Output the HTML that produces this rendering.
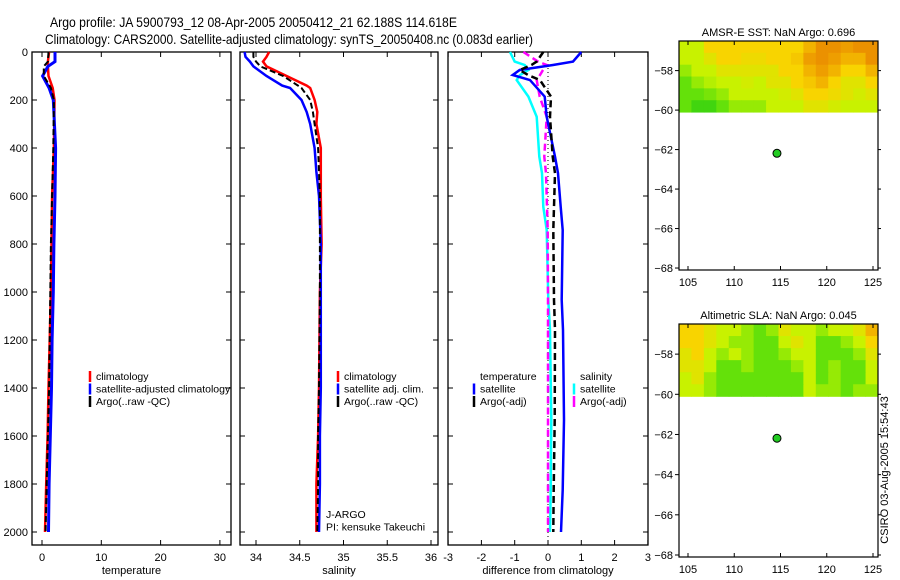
<!DOCTYPE html>
<html><head><meta charset="utf-8"><style>
html,body{margin:0;padding:0;background:#fff;}
svg{display:block;font-family:"Liberation Sans",sans-serif;}
</style></head><body>
<svg id="fig" width="900" height="580" viewBox="0 0 900 580" xmlns="http://www.w3.org/2000/svg">
<text x="50" y="27" font-size="14" textLength="407" lengthAdjust="spacingAndGlyphs">Argo profile: JA 5900793_12 08-Apr-2005 20050412_21 62.188S 114.618E</text>
<text x="45" y="44" font-size="14" textLength="488" lengthAdjust="spacingAndGlyphs">Climatology: CARS2000. Satellite-adjusted climatology: synTS_20050408.nc (0.083d earlier)</text>
<text transform="translate(888,470) rotate(-90)" font-size="11" text-anchor="middle">CSIRO 03-Aug-2005 15:54:43</text>
<g id="plots"></g>
</svg>
<script>
// ---------- data ----------
const depthT = [0,40,60,100,150,200,400,600,800,1000,1200,1400,1600,1800,2000];
const tempClim = [1.2,1.0,1.0,1.1,1.8,2.1,2.0,1.7,1.6,1.5,1.3,1.1,0.95,0.7,0.5];
const tempSat  = [2.2,2.2,1.0,0.1,1.2,1.9,2.3,2.2,2.0,1.9,1.7,1.6,1.4,1.2,1.1];
const tempArgo = [1.1,1.0,0.3,0.3,1.5,2.0,1.9,1.7,1.5,1.4,1.3,1.2,1.0,0.8,0.6];

const depthS = [0,20,40,60,100,140,150,200,250,300,400,500,600,800,1000,1400,1600,1800,2000];
const salClim = [34.15,34.12,34.08,34.12,34.35,34.58,34.62,34.67,34.70,34.69,34.74,34.74,34.74,34.75,34.73,34.72,34.71,34.69,34.69];
const salSat  = [33.87,33.88,33.93,33.97,34.12,34.30,34.39,34.52,34.58,34.62,34.67,34.69,34.72,34.74,34.74,34.74,34.73,34.73,34.72];
const salArgo = [33.97,33.97,34.00,34.05,34.31,34.48,34.52,34.62,34.65,34.67,34.71,34.72,34.73,34.73,34.73,34.72,34.71,34.71,34.70];

const depthD = [0,40,54,75,96,117,186,270,436,505,645,742,1033,1158,1533,1825,2000];
const diffTSat  = [1.0,0.75,0.15,-0.85,-1.06,-0.54,-0.1,-0.04,0.21,0.3,0.38,0.44,0.41,0.45,0.48,0.44,0.39];
const diffTArgo = [-0.14,-0.34,-0.5,-0.85,-0.6,-0.24,0.09,0.06,0.14,0.21,0.18,0.16,0.18,0.21,0.2,0.17,0.16];
const diffSSat  = [-1.14,-1.0,-0.7,-0.59,-0.84,-0.94,-0.59,-0.34,-0.26,-0.18,-0.14,-0.04,0.01,0.06,0.1,0.08,0.06];
const diffSArgo = [-0.74,-0.3,-0.04,-0.15,-0.24,-0.34,-0.25,-0.04,-0.11,-0.06,-0.03,-0.01,0.0,0.0,0.0,0.0,0.0];

const depthTicks = [0,200,400,600,800,1000,1200,1400,1600,1800,2000];
const tempTicks = [0,10,20,30];
const salTicks = [34,34.5,35,35.5,36];
const diffTicks = [-3,-2,-1,0,1,2,3];
const lonTicks = [105,110,115,120,125];
const latTicks = [-58,-60,-62,-64,-66,-68];

const sstGrid = [
 [2,2,3,3,3,3,3,3,3,3,3.5,4,4,3.8,4,4],
 [2,2,2.5,3,3,2.8,2.8,3,3,3.2,3.8,4,3.8,3.5,3.5,4],
 [1.5,2,2,2.5,2.5,2.5,2.5,2.5,3,3,3.5,3.8,3.5,3,3,3.5],
 [1,1.5,1.8,2,2,2.2,2,2.5,2.5,3,3.2,3.5,3,2.5,2.5,3],
 [1,1,1.2,1.5,2,2,2,2,2.2,2.5,3,3,2.8,2.5,2.2,2.5],
 [1,0.5,0.5,1,1.5,1.5,1.5,2,2,2,2.5,2.5,2.2,2,2,2]];
const slaGrid = [
 [3,3,2.5,2,2,1.5,1,1.5,2.5,2,2,1.5,2,2,2.5,3.5],
 [3,3,2.5,2,1.5,1.5,1,1,2,2.5,2,1,1,1.5,2,3],
 [2.5,3,2,1.5,2,1.5,1,1,1.5,2,2,1,1,1,1.5,2.5],
 [2.5,2.5,2,1,1,1.5,1,1,1,1.5,2,1,1.5,1,1,2],
 [2,2.5,1.5,1,1,1,1,1,1,1,2,1,1.5,1,1,2],
 [2,2,1.5,1,1,1,1,1,1,1,2,1.5,1.5,1,1.5,1.5]];
const floatLon = 114.618, floatLat = -62.188;

// ---------- helpers ----------
const NS = "http://www.w3.org/2000/svg";
const root = document.getElementById('plots');
function mk(tag, attrs, parent){ const e=document.createElementNS(NS,tag); for(const k in attrs) e.setAttribute(k,attrs[k]); (parent||root).appendChild(e); return e; }
const yD = d => 52 + 0.24*d;

function panel(name, x0, x1, xs, ticks, fmt, label, showDepth){
  const g = mk('g',{});
  
  
  const fr = mk('rect',{x:x0,y:52,width:x1-x0,height:493,fill:'none',stroke:'#000','stroke-width':1.3},g);
  
  
  ticks.forEach(t=>{
    const x=xs(t);
    mk('line',{x1:x,y1:545,x2:x,y2:540,stroke:'#000'},g);
    mk('line',{x1:x,y1:52,x2:x,y2:57,stroke:'#000'},g);
    const tl = mk('text',{x:x,y:561,'font-size':11,'text-anchor':'middle'},g);
    tl.textContent = fmt(t);
    
    
  });
  depthTicks.forEach(d=>{
    const y=yD(d);
    mk('line',{x1:x0,y1:y,x2:x0+5,y2:y,stroke:'#000'},g);
    mk('line',{x1:x1,y1:y,x2:x1-5,y2:y,stroke:'#000'},g);
    if(showDepth){
      const tl = mk('text',{x:x0-4,y:y+4,'font-size':11,'text-anchor':'end'},g);
      tl.textContent = d;
      
      
    }
  });
  const al = mk('text',{x:(x0+x1)/2,y:574,'font-size':11,'text-anchor':'middle'},g);
  al.textContent = label;
  
  
  return g;
}
function line(g, name, depths, vals, xs, color, w, dash){
  const pts = depths.map((d,i)=>xs(vals[i]).toFixed(1)+','+yD(d).toFixed(1)).join(' ');
  const p = mk('polyline',{points:pts,fill:'none',stroke:color,'stroke-width':w,'stroke-dasharray':dash||'none'},g);
  
  
}
function legend(g, x, y, items){
  items.forEach((it,i)=>{
    const yy = y + i*12.5;
    if(it.c) mk('line',{x1:x,y1:yy-9,x2:x,y2:yy+2,stroke:it.c,'stroke-width':2.5},g);
    const t = mk('text',{x:x+6,y:yy,'font-size':10.5},g);
    t.textContent = it.t;
    
    
  });
}

// ---------- temperature ----------
const xT = t => 42 + 5.93*t;
const gT = panel('temperature-panel',32,231,xT,tempTicks,v=>v,'temperature',true);
line(gT,'temp-climatology-line',depthT,tempClim,xT,'#f00',2.5);
line(gT,'temp-satellite-line',depthT,tempSat,xT,'#00f',3);
line(gT,'temp-argo-line',depthT,tempArgo,xT,'#000',2,'6,3');
legend(gT,90,380,[{c:'#f00',t:'climatology'},{c:'#00f',t:'satellite-adjusted climatology'},{c:'#000',t:'Argo(..raw -QC)'}]);

// ---------- salinity ----------
const xS = s => 256 + 87.5*(s-34);
const gS = panel('salinity-panel',240,438,xS,salTicks,v=>v,'salinity',false);
line(gS,'sal-climatology-line',depthS,salClim,xS,'#f00',2.5);
line(gS,'sal-satellite-line',depthS,salSat,xS,'#00f',2.5);
line(gS,'sal-argo-line',depthS,salArgo,xS,'#000',2,'6,3');
legend(gS,338,380,[{c:'#f00',t:'climatology'},{c:'#00f',t:'satellite adj. clim.'},{c:'#000',t:'Argo(..raw -QC)'}]);
legend(gS,320,518,[{t:'J-ARGO'},{t:'PI: kensuke Takeuchi'}]);

// ---------- difference ----------
const xDf = d => 548 + 33.3*d;
const gD = panel('difference-panel',448,648,xDf,diffTicks,v=>v,'difference from climatology',false);
mk('line',{x1:xDf(0),y1:52,x2:xDf(0),y2:545,stroke:'#000','stroke-dasharray':'1,3'},gD);
line(gD,'diff-sal-satellite-line',depthD,diffSSat,xDf,'#0ff',2.5);
line(gD,'diff-sal-argo-line',depthD,diffSArgo,xDf,'#f0f',2.5,'7,4');
line(gD,'diff-temp-satellite-line',depthD,diffTSat,xDf,'#00f',2.5);
line(gD,'diff-temp-argo-line',depthD,diffTArgo,xDf,'#000',2.5,'7,4');
legend(gD,474,380,[{t:'temperature'},{c:'#00f',t:'satellite'},{c:'#000',t:'Argo(-adj)'}]);
legend(gD,574,380,[{t:'salinity'},{c:'#0ff',t:'satellite'},{c:'#f0f',t:'Argo(-adj)'}]);

// ---------- maps ----------
const cstops = [[30,200,20],[100,225,10],[200,242,0],[248,212,0],[235,145,0]];
function cmap(v){ const i=Math.min(3,Math.floor(v)), f=v-i; const a=cstops[i], b=cstops[i+1];
  return 'rgb('+a.map((c,k)=>Math.round(c+(b[k]-c)*f)).join(',')+')'; }
function mapPanel(name, top, bot, title, grid){
  const g = mk('g',{});
  
  
  const x0=679, x1=878;
  const xL = l => 688 + (l-105)*9.25;
  const yL = la => top + (la - (-56.5))*(-(bot-top)/11.6);
  const yTop = yL(-56.5), yEdge = yL(-60.1);
  const rows=grid.length, cols=grid[0].length, cw=(x1-x0)/cols, rh=(yEdge-yTop)/rows;
  grid.forEach((row,r)=>row.forEach((v,c)=>{
    const cell = mk('rect',{x:x0+c*cw,y:yTop+r*rh,width:cw+0.5,height:rh+0.5,fill:cmap(v)},g);
    
    
  }));
  const fr = mk('rect',{x:x0,y:top,width:x1-x0,height:bot-top,fill:'none',stroke:'#000','stroke-width':1.2},g);
  
  
  lonTicks.forEach(l=>{ const x=xL(l);
    mk('line',{x1:x,y1:top,x2:x,y2:top+4,stroke:'#000'},g);
    mk('line',{x1:x,y1:bot,x2:x,y2:bot-4,stroke:'#000'},g);
    const t=mk('text',{x:x,y:bot+16,'font-size':11,'text-anchor':'middle'},g); t.textContent=l;
    
    
  });
  latTicks.forEach(la=>{ const y=yL(la);
    mk('line',{x1:x0,y1:y,x2:x0-4,y2:y,stroke:'#000'},g);
    mk('line',{x1:x1,y1:y,x2:x1+3,y2:y,stroke:'#000'},g);
    const t=mk('text',{x:x0-6,y:y+4,'font-size':11,'text-anchor':'end'},g); t.textContent='\u2212'+Math.abs(la);
    
    
  });
  const tt=mk('text',{x:(x0+x1)/2,y:top-5,'font-size':11,'text-anchor':'middle'},g); tt.textContent=title;
  
  
  const dot=mk('circle',{cx:xL(floatLon),cy:yL(floatLat),r:4,fill:'#2c2',stroke:'#000','stroke-width':1},g);
  
  
}
mapPanel('sst-map',41,270,'AMSR-E SST: NaN Argo: 0.696',sstGrid);
mapPanel('sla-map',324,557,'Altimetric SLA: NaN Argo: 0.045',slaGrid);
</script>
</body></html>
